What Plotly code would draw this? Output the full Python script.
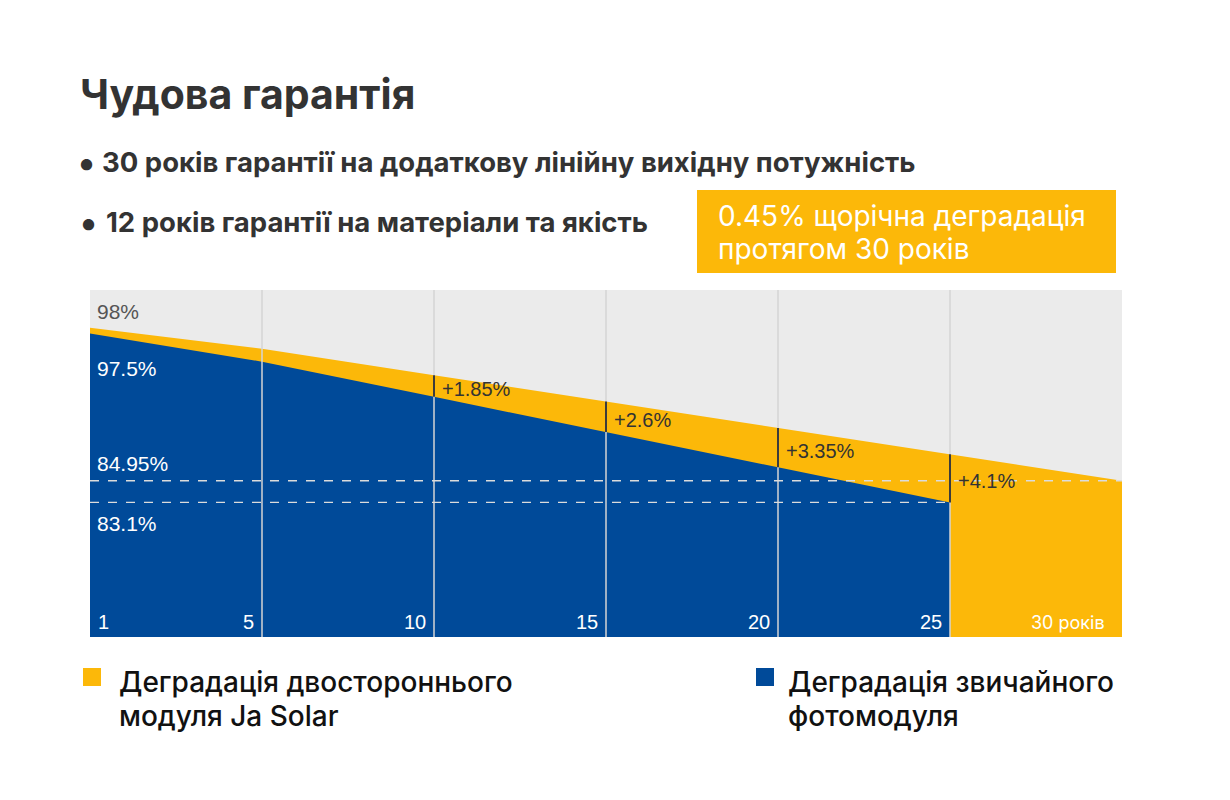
import plotly.graph_objects as go

# section boundaries (years) and output power, %
years = ["1", "5", "10", "15", "20", "25", "30 років"]
bifacial = [98, 96.2, 93.95, 91.7, 89.45, 87.2, 84.95]
standard = [97.5, 95.1, 92.1, 89.1, 86.1, 83.1]
gain_idx = [2, 3, 4, 5]
gain_labels = ["+1.85%", "+2.6%", "+3.35%", "+4.1%"]

legend_names = [
    ["Деградація двостороннього", "модуля Ja Solar"],
    ["Деградація звичайного", "фотомодуля"],
]
title = "Чудова гарантія"
bullets = [
    "30 років гарантії на додаткову лінійну вихідну потужність",
    "12 років гарантії на матеріали та якість",
]
badge = ["0.45% щорічна деградація", "протягом 30 років"]

YELLOW = "#fcb809"
BLUE = "#004a99"
GREY_BG = "#ebebeb"
GRID = "#d5d5d5"

HEAD_FONT = "Inter"
NUM_FONT = "Liberation Sans"

# plot box in pixels
L, R, T, B = 90, 1122, 290, 637


def px(x):
    return (x - L) / (R - L)


def py(y):
    return (B - y) / (B - T)


x_all = list(range(len(bifacial)))

fig = go.Figure()
fig.add_trace(go.Scatter(
    x=x_all, y=bifacial, mode="lines", fill="tozeroy",
    line=dict(width=0, color=YELLOW), fillcolor=YELLOW,
    hoverinfo="skip", showlegend=False,
))
fig.add_trace(go.Scatter(
    x=x_all[:len(standard)], y=standard, mode="lines", fill="tozeroy",
    line=dict(width=0, color=BLUE), fillcolor=BLUE,
    hoverinfo="skip", showlegend=False,
))

shapes = []
# vertical grid lines
for i in range(1, len(standard)):
    shapes.append(dict(type="line", xref="x", yref="paper", x0=i, x1=i, y0=0, y1=1,
                       line=dict(color=GRID, width=1.5), layer="above"))

# dashed reference levels
shapes.append(dict(type="line", xref="x", yref="y", x0=0, x1=x_all[-1],
                   y0=bifacial[-1], y1=bifacial[-1],
                   line=dict(color="#dcdcdc", width=1.3, dash="dash"), layer="above"))
shapes.append(dict(type="line", xref="x", yref="y", x0=0, x1=len(standard) - 1,
                   y0=standard[-1], y1=standard[-1],
                   line=dict(color="#dcdcdc", width=1.3, dash="dash"), layer="above"))

# gain markers
for i in gain_idx:
    shapes.append(dict(type="line", xref="x", yref="y", x0=i, x1=i,
                       y0=standard[i], y1=bifacial[i],
                       line=dict(color="#3c3c3c", width=2), layer="above"))

# badge box
shapes.append(dict(type="rect", xref="paper", yref="paper",
                   x0=px(697), x1=px(1116), y0=py(273), y1=py(190),
                   fillcolor=YELLOW, line=dict(width=0), layer="above"))

# legend squares
shapes.append(dict(type="rect", xref="paper", yref="paper",
                   x0=px(83), x1=px(101), y0=py(686), y1=py(668),
                   fillcolor=YELLOW, line=dict(width=0)))
shapes.append(dict(type="rect", xref="paper", yref="paper",
                   x0=px(756), x1=px(774), y0=py(686), y1=py(668),
                   fillcolor=BLUE, line=dict(width=0)))

ann = []
# title and bullets
ann.append(dict(text="<b>" + title + "</b>", xref="paper", yref="paper",
                x=px(78), y=py(94), xanchor="left", yanchor="middle", showarrow=False,
                font=dict(family=HEAD_FONT, size=41, color="#333333")))
for k, (b, yy) in enumerate(zip(bullets, [162, 222])):
    ann.append(dict(text="<b>•</b>", xref="paper", yref="paper",
                    x=px(76 + 2 * k), y=py(yy), xanchor="left", yanchor="middle",
                    showarrow=False, font=dict(family=HEAD_FONT, size=36, color="#333333")))
    ann.append(dict(text="<b>" + b + "</b>", xref="paper", yref="paper",
                    x=px(100 + 4 * k), y=py(yy), xanchor="left", yanchor="middle",
                    showarrow=False, font=dict(family=HEAD_FONT, size=27.5, color="#333333")))

# badge text
for line, yy in zip(badge, [216, 249]):
    ann.append(dict(text=line, xref="paper", yref="paper", x=px(716), y=py(yy),
                    xanchor="left", yanchor="middle", showarrow=False,
                    font=dict(family=HEAD_FONT, size=28, color="white")))

# value labels on the left
ann.append(dict(text=f"{bifacial[0]:g}%", x=0, y=bifacial[0], xanchor="left", yanchor="bottom",
                xshift=5, yshift=3, showarrow=False,
                font=dict(family=NUM_FONT, size=21, color="#555555")))
ann.append(dict(text=f"{standard[0]:g}%", x=0, y=standard[0], xanchor="left", yanchor="top",
                xshift=5, yshift=-21, showarrow=False,
                font=dict(family=NUM_FONT, size=21, color="white")))
ann.append(dict(text=f"{bifacial[-1]:g}%", x=0, y=bifacial[-1], xanchor="left", yanchor="bottom",
                xshift=5, yshift=4, showarrow=False,
                font=dict(family=NUM_FONT, size=21, color="white")))
ann.append(dict(text=f"{standard[-1]:g}%", x=0, y=standard[-1], xanchor="left", yanchor="top",
                xshift=5, yshift=-8, showarrow=False,
                font=dict(family=NUM_FONT, size=21, color="white")))

# gain labels
for i, lab in zip(gain_idx, gain_labels):
    ann.append(dict(text=lab, x=i, y=(standard[i] + bifacial[i]) / 2, xanchor="left",
                    yanchor="middle", xshift=6, yshift=-3, showarrow=False,
                    font=dict(family=NUM_FONT, size=20, color="#333333")))

# year labels inside the bottom of the plot
for i, lab in enumerate(years):
    last = i == len(years) - 1
    ann.append(dict(text=lab, x=i, y=0, yref="paper", xanchor="left" if i == 0 else "right",
                    yanchor="bottom", xshift=6 if i == 0 else (-15 if last else -6), yshift=2,
                    showarrow=False,
                    font=dict(family=HEAD_FONT if last else NUM_FONT,
                              size=18 if last else 20, color="white")))

# legend text
for (l1, l2), xx in zip(legend_names, [117, 786]):
    ann.append(dict(text=l1, xref="paper", yref="paper", x=px(xx), y=py(682),
                    xanchor="left", yanchor="middle", showarrow=False,
                    font=dict(family=HEAD_FONT, size=28, weight=500, color="#111111")))
    ann.append(dict(text=l2, xref="paper", yref="paper", x=px(xx), y=py(716),
                    xanchor="left", yanchor="middle", showarrow=False,
                    font=dict(family=HEAD_FONT, size=28, weight=500, color="#111111")))

fig.update_layout(
    width=1230, height=800, autosize=False,
    margin=dict(l=L, r=1230 - R, t=T, b=800 - B),
    paper_bgcolor="white", plot_bgcolor=GREY_BG,
    xaxis=dict(range=[0, len(bifacial) - 1], visible=False, fixedrange=True),
    yaxis=dict(range=[71.63, 101.21], visible=False, fixedrange=True),
    shapes=shapes, annotations=ann,
)

fig.write_html("out.html", config={"displayModeBar": False},
               post_script="document.body.style.margin='0px';")
